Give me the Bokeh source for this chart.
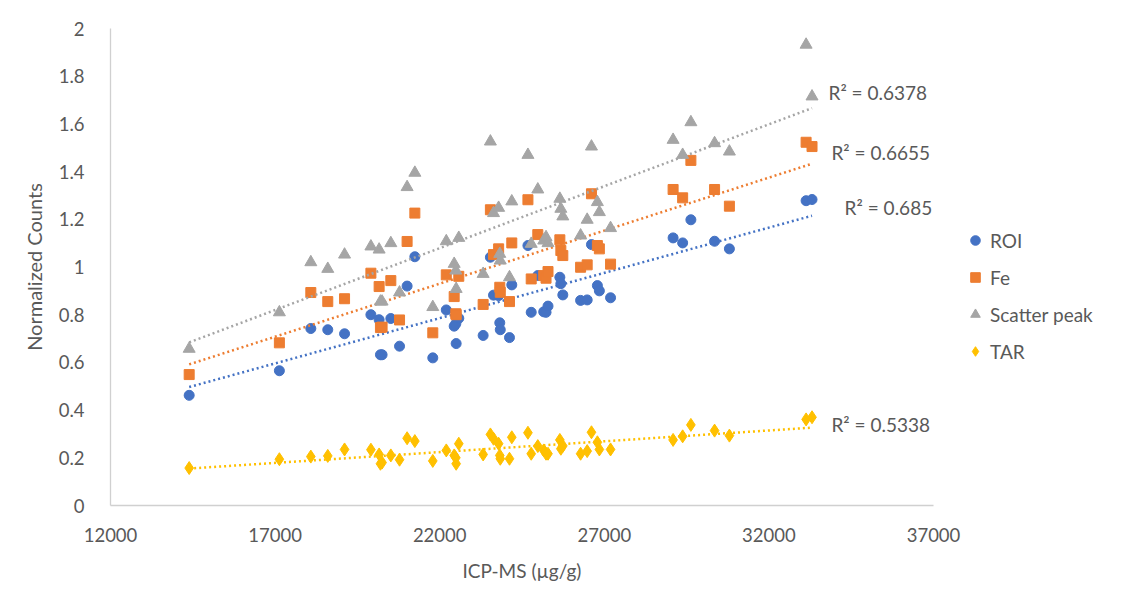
import numpy as np
from bokeh.plotting import figure
from bokeh.models import (Legend, LegendItem, Range1d, FixedTicker, ColumnDataSource,
                          CustomJSTickFormatter)
from bokeh.core.properties import value
from bokeh.embed import file_html
from bokeh.resources import INLINE

# ---- data ----
icp_ms = [14390, 17130, 18085, 18600, 19110, 19910, 20160, 20200, 20250, 20515,
          20780, 21010, 21245, 21790, 22200, 22440, 22490, 22580, 22500, 23320,
          23540, 23635, 23790, 23825, 23840, 24120, 24190, 24680, 24780, 24980,
          25160, 25230, 25290, 25650, 25680, 25740, 26280, 26480, 26610, 26790,
          26850, 27190, 29090, 29380, 29630, 30350, 30800, 33130, 33310]
roi = [0.462, 0.565, 0.742, 0.737, 0.720, 0.800, 0.779, 0.632, 0.632, 0.784,
       0.668, 0.920, 1.043, 0.619, 0.820, 0.752, 0.762, 0.785, 0.679, 0.713,
       1.041, 0.882, 0.880, 0.766, 0.737, 0.704, 0.925, 1.090, 0.810, 0.964,
       0.812, 0.810, 0.836, 0.957, 0.930, 0.883, 0.860, 0.862, 1.094, 0.922,
       0.900, 0.871, 1.122, 1.101, 1.198, 1.108, 1.076, 1.278, 1.283]
fe = [0.549, 0.682, 0.893, 0.855, 0.867, 0.974, 0.918, 0.746, 0.748, 0.943,
      0.778, 1.107, 1.226, 0.724, 0.967, 0.876, 0.804, 0.961, 0.800, 0.843,
      1.240, 1.052, 1.076, 0.915, 0.894, 0.855, 1.101, 1.282, 0.950, 1.136,
      0.964, 0.953, 0.981, 1.114, 1.069, 1.048, 0.999, 1.009, 1.307, 1.090,
      1.076, 1.012, 1.325, 1.290, 1.447, 1.325, 1.255, 1.523, 1.505]
scatter_peak = [0.657, 0.810, 1.020, 0.992, 1.052, 1.086, 1.073, 0.855, 0.855, 1.100,
                0.893, 1.335, 1.395, 0.832, 1.108, 1.013, 0.985, 1.122, 0.908, 0.971,
                1.526, 1.226, 1.248, 1.055, 1.027, 0.957, 1.275, 1.470, 1.097, 1.325,
                1.111, 1.125, 1.100, 1.286, 1.244, 1.212, 1.132, 1.198, 1.505, 1.272,
                1.230, 1.163, 1.533, 1.470, 1.607, 1.519, 1.484, 1.932, 1.715]
tar = [0.157, 0.194, 0.205, 0.208, 0.235, 0.234, 0.214, 0.175, 0.180, 0.210,
       0.192, 0.282, 0.270, 0.187, 0.231, 0.210, 0.200, 0.259, 0.175, 0.214,
       0.298, 0.280, 0.259, 0.210, 0.196, 0.196, 0.286, 0.305, 0.217, 0.249,
       0.231, 0.217, 0.217, 0.275, 0.238, 0.250, 0.217, 0.228, 0.307, 0.265,
       0.235, 0.235, 0.275, 0.290, 0.338, 0.314, 0.293, 0.361, 0.370]
series_names = ["ROI", "Fe", "Scatter peak", "TAR"]
r2_labels = ["R\u00b2 = 0.685", "R\u00b2 = 0.6655", "R\u00b2 = 0.6378", "R\u00b2 = 0.5338"]
x_ticks = [12000, 17000, 22000, 27000, 32000, 37000]
y_ticks = [0, 0.2, 0.4, 0.6, 0.8, 1, 1.2, 1.4, 1.6, 1.8, 2]

colors = ["#4472C4", "#ED7D31", "#A5A5A5", "#FFC000"]
markers = ["circle", "square", "triangle", "diamond"]
sizes = [10, 10, 12, 13]
label_pos = [(34300, 1.249), (33900, 1.480), (33810, 1.732), (33900, 0.340)]

FONT = "Lato"
TXT = "#595959"

p = figure(frame_width=823, frame_height=477, output_backend="svg",
           toolbar_location=None, min_border_left=110, min_border_top=28,
           min_border_right=0, min_border_bottom=30,
           x_range=Range1d(12000, 37000), y_range=Range1d(0, 2))
p.background_fill_color = "white"
p.border_fill_color = "white"
p.outline_line_color = None
p.xgrid.visible = False
p.ygrid.visible = False

for ax, ticks in ((p.xaxis[0], x_ticks), (p.yaxis[0], y_ticks)):
    ax.ticker = FixedTicker(ticks=ticks)
    ax.axis_line_color = "#D0D0D0"
    ax.axis_line_width = 1.3
    ax.major_tick_line_color = None
    ax.minor_tick_line_color = None
    ax.major_label_text_font = FONT
    ax.major_label_text_font_size = "18.5px"
    ax.major_label_text_color = TXT
    ax.axis_label_text_font = FONT
    ax.axis_label_text_font_style = "normal"
    ax.axis_label_text_color = TXT

p.xaxis.axis_label = "ICP-MS (\u00b5g/g)"
p.yaxis.axis_label = "Normalized Counts"
p.xaxis.axis_label_text_font_size = "19px"
p.yaxis.axis_label_text_font_size = "20px"
p.xaxis.major_label_standoff = 16
p.xaxis.axis_label_standoff = 14
p.yaxis.major_label_standoff = 20
p.yaxis.axis_label_standoff = 10
p.yaxis.formatter = CustomJSTickFormatter(code="return (Math.round(tick*10)/10).toString();")
p.xaxis.formatter = CustomJSTickFormatter(code="return tick.toString();")

x = np.array(icp_ms, dtype=float)
items = []
for name, vals, col, mk, sz, lab, pos in zip(series_names, [roi, fe, scatter_peak, tar],
                                             colors, markers, sizes, r2_labels, label_pos):
    y = np.array(vals, dtype=float)
    slope, icpt = np.polyfit(x, y, 1)
    xs = np.array([x.min(), x.max()])
    p.line(xs, slope * xs + icpt, line_color=col, line_width=2.5, line_dash="2 3")
    src = ColumnDataSource(dict(x=x, y=y))
    r = p.scatter("x", "y", source=src, marker=mk, size=sz, fill_color=col,
                  line_color=col, line_width=1)
    items.append(LegendItem(label=name, renderers=[r]))
    p.text(x=[pos[0]], y=[pos[1]], text=[lab], text_font=value(FONT),
           text_font_size="19px", text_color=TXT, text_baseline="middle",
           text_align="left")

legend = Legend(items=items, location=(30, 142), orientation="vertical",
                border_line_color=None, background_fill_alpha=0,
                label_text_font=FONT, label_text_font_size="19px",
                label_text_color=TXT, glyph_width=24, glyph_height=24,
                label_height=20, spacing=13, padding=0, margin=0,
                label_standoff=3)
p.add_layout(legend, "right")

open("out.html", "w").write(file_html(p, INLINE))
